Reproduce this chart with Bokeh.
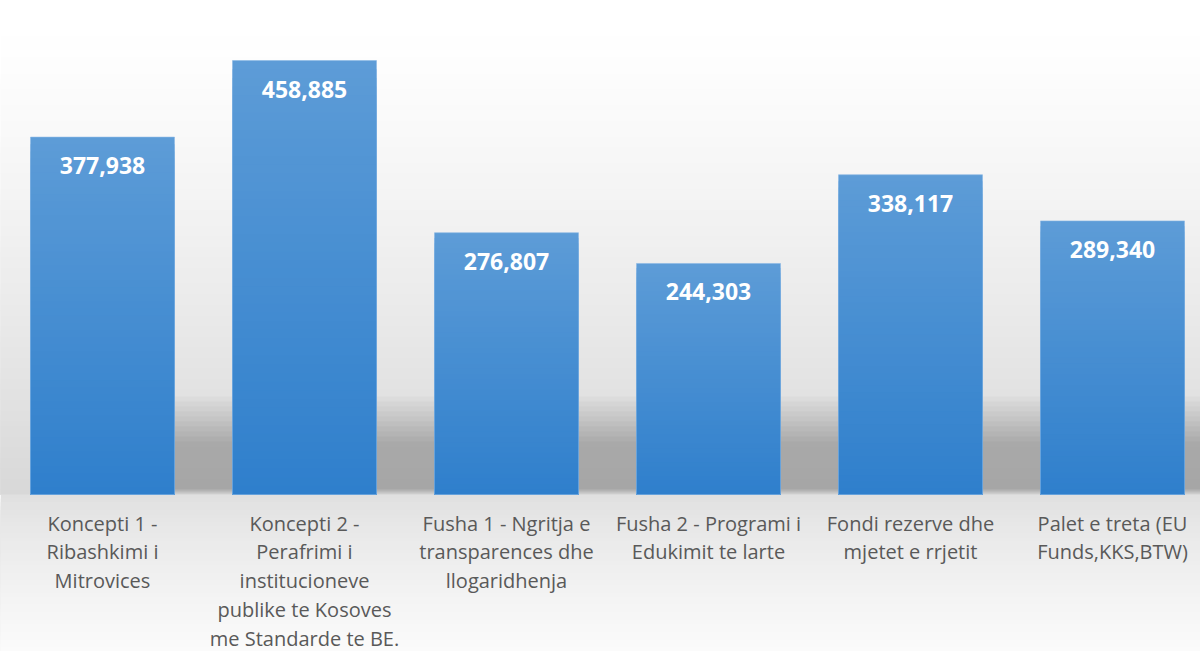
from bokeh.plotting import figure
from bokeh.models import Range1d, ColumnDataSource
from bokeh.core.properties import value
from bokeh.embed import file_html
from bokeh.resources import INLINE

categories = [
    "Koncepti 1 -\nRibashkimi i\nMitrovices",
    "Koncepti 2 -\nPerafrimi i\ninstitucioneve\npublike te Kosoves\nme Standarde te BE.",
    "Fusha 1 - Ngritja e\ntransparences dhe\nllogaridhenja",
    "Fusha 2 - Programi i\nEdukimit te larte",
    "Fondi rezerve dhe\nmjetet e rrjetit",
    "Palet e treta (EU\nFunds,KKS,BTW)",
]
values = [377938, 458885, 276807, 244303, 338117, 289340]
value_labels = ["377,938", "458,885", "276,807", "244,303", "338,117", "289,340"]

W, H = 1200, 651
PX = 1057.5  # data units per pixel (vertical)
BASE = 494   # pixel row of the zero line
y_start = -(H - BASE) * PX
y_end = BASE * PX
x_start = (0 - 102) / 202
x_end = (W - 102) / 202

p = figure(width=W, height=H, output_backend="svg", toolbar_location=None,
           x_range=Range1d(x_start, x_end), y_range=Range1d(y_start, y_end),
           min_border=0)
p.axis.visible = False
p.grid.visible = False
p.outline_line_color = None
p.background_fill_color = "white"
p.border_fill_color = "white"


def lerp(c1, c2, t):
    return "#%02x%02x%02x" % tuple(int(round(a + (b - a) * t)) for a, b in zip(c1, c2))


def ypx(py):
    return (BASE - py) * PX


# background gradient (overlapping strips, no seams)
bt, bb, bc = [], [], []
n = 90
for i in range(n):
    p0 = 20 + (BASE - 20) * i / n
    t = i / (n - 1)
    bt.append(ypx(p0)); bb.append(0)
    bc.append(lerp((255, 255, 255), (216, 216, 216), t ** 1.25))
m = 40
for i in range(m):
    p0 = BASE + (H - BASE) * i / m
    t = i / (m - 1)
    bt.append(ypx(p0)); bb.append(y_start)
    bc.append(lerp((224, 224, 224), (251, 251, 251), t ** 0.8))
p.quad(left=x_start, right=x_end, top=bt, bottom=bb, fill_color=bc, line_color=None)

# soft shadow band behind bars
layers = []
for j in range(10):
    a = 396 + j * 5
    b = 494 - j * 0.6
    layers.append((a, b, 0.025))
for (a, b, al) in layers:
    p.quad(left=0, right=x_end, top=ypx(a), bottom=ypx(b), fill_color="black",
           fill_alpha=al, line_color=None)

# bars with vertical gradient (overlapping slices drawn tallest first)
bw = 144 / 202
top_c = (93, 156, 215)
bot_c = (47, 127, 204)
L, R, T, B, C = [], [], [], [], []
ns = 50
for i, v in enumerate(values):
    for k in range(ns - 1, -1, -1):
        L.append(i - bw / 2); R.append(i + bw / 2)
        B.append(0); T.append(v * (k + 1) / ns)
        C.append(lerp(bot_c, top_c, (k + 0.5) / ns))
p.quad(left=L, right=R, top=T, bottom=B, fill_color=C, line_color=None)
p.quad(left=[i - bw / 2 for i in range(len(values))], right=[i + bw / 2 for i in range(len(values))],
       top=values, bottom=0, fill_color=None, line_color="#8ab8e4", line_alpha=0.6, line_width=1)

# value labels
src = ColumnDataSource(dict(x=list(range(len(values))), y=[v - 28.5 * PX for v in values], t=value_labels))
p.text(x="x", y="y", text="t", source=src, text_color="white", text_font=value("Open Sans"),
       text_font_style="bold", text_font_size="23px", text_align="center", text_baseline="middle")

# category labels
src2 = ColumnDataSource(dict(x=list(range(len(categories))), y=[-15 * PX] * len(categories), t=categories))
p.text(x="x", y="y", text="t", source=src2, text_color="#595959", text_font=value("Open Sans"),
       text_font_size="20px", text_align="center", text_baseline="top", text_line_height=1.07)

open("out.html", "w").write(file_html(p, INLINE))
